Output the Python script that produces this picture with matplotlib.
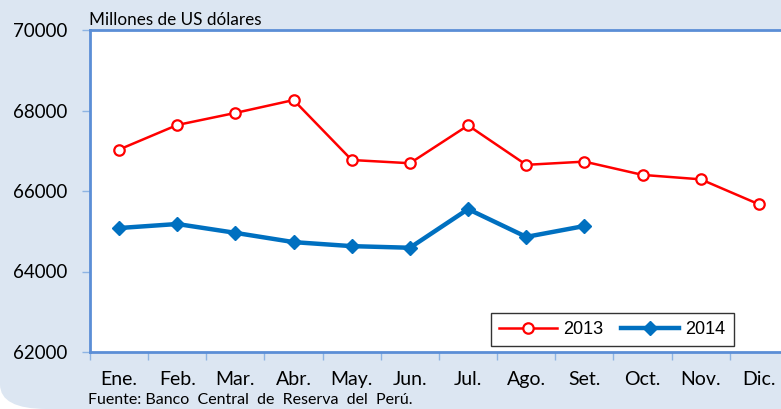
import numpy as np
import matplotlib
matplotlib.use('Agg')
import matplotlib.pyplot as plt
from matplotlib.patches import FancyBboxPatch

# datos mensuales (millones de US$)
meses = ['Ene.', 'Feb.', 'Mar.', 'Abr.', 'May.', 'Jun.',
         'Jul.', 'Ago.', 'Set.', 'Oct.', 'Nov.', 'Dic.']
serie_2013 = [67030, 67640, 67940, 68260, 66770, 66690,
              67630, 66650, 66730, 66400, 66290, 65670]
serie_2014 = [65080, 65180, 64960, 64730, 64630, 64590,
              65550, 64860, 65130]
y_ticks = [62000, 64000, 66000, 68000, 70000]

AZUL_EJE = '#5B8ED6'
FONDO = '#DCE6F2'
LETRA = 'Lato'

fig = plt.figure(figsize=(7.81, 4.09), dpi=100)
fig.patch.set_facecolor('white')

# fondo redondeado
caja = FancyBboxPatch((0.0, 0.0), 1.2, 1.2, boxstyle='round,pad=0,rounding_size=0.06',
                      transform=fig.transFigure, facecolor=FONDO, edgecolor='none', zorder=-5)
fig.patches.append(caja)

W, H = 781, 409
ax = fig.add_axes([90 / W, (H - 352) / H, 698 / W, 322 / H])
ax.set_facecolor('white')
ax.set_zorder(2)

x = np.arange(len(meses))
ax.plot(x, serie_2013, color='#FF0000', lw=1.8, marker='o', ms=7.5,
        mfc='white', mec='#FF0000', mew=1.6, label='2013', zorder=3)
ax.plot(x[:len(serie_2014)], serie_2014, color='#0070C0', lw=3.2, marker='D', ms=7,
        mfc='#0070C0', mec='#0070C0', label='2014', zorder=3)

ax.set_xlim(-0.5, len(meses) - 0.5)
ax.set_ylim(62000, 70000)

ax.set_xticks(x)
ax.set_xticklabels(meses, fontsize=14, family=LETRA)
ax.set_xticks(np.arange(-0.5, len(meses)), minor=True)
ax.tick_params(axis='x', which='major', length=0, pad=14)
ax.tick_params(axis='x', which='minor', length=6, width=1, color='#8EB4E3', direction='out')

ax.set_yticks(y_ticks)
ax.set_yticklabels([str(v) for v in y_ticks], fontsize=13.5, family=LETRA)
ax.tick_params(axis='y', length=6, width=1, color='#8EB4E3', direction='out', pad=10)

for lado in ['left', 'bottom', 'top']:
    ax.spines[lado].set_color(AZUL_EJE)
    ax.spines[lado].set_linewidth(2)
ax.spines['right'].set_visible(False)

fig.text(89 / W, (H - 20) / H, 'Millones de US dólares', fontsize=12.3,
         family=LETRA, ha='left', va='center')

leg = ax.legend(loc='lower left', bbox_to_anchor=(401 / 698, 6 / 322), ncol=2,
                frameon=True, fancybox=False, edgecolor='black',
                prop={'family': 'Liberation Sans', 'size': 13},
                handlelength=3.2, columnspacing=1.0, handletextpad=0.35,
                borderpad=0.45, borderaxespad=0)
leg.get_frame().set_linewidth(1)

fig.text(88 / W, (H - 400) / H,
         'Fuente: Banco  Central  de  Reserva  del  Perú.',
         fontsize=11.5, family=LETRA, ha='left', va='center')

fig.savefig('out.png', dpi=100, facecolor=fig.get_facecolor())
